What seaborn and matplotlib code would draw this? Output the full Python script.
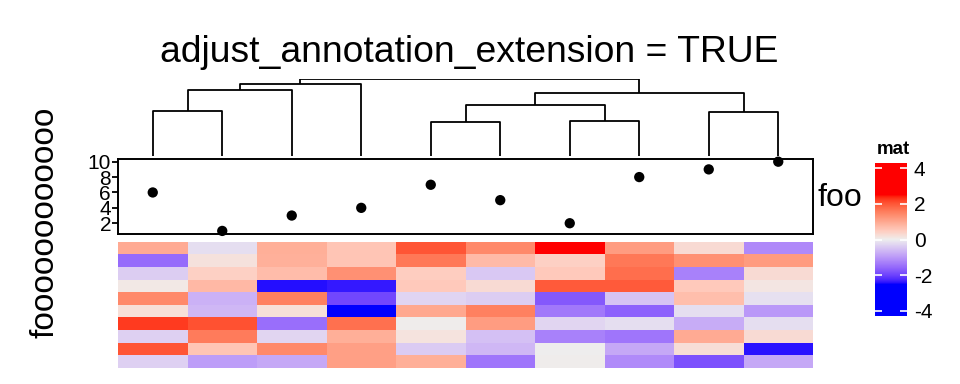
import numpy as np
import matplotlib
matplotlib.use("Agg")
import matplotlib.pyplot as plt
from matplotlib.colors import ListedColormap, Normalize
import seaborn as sns

# -----------------------------------------
# data
# -----------------------------------------
title = "adjust_annotation_extension = TRUE"
row_title = "foooooooooooo"
anno_name = "foo"
legend_title = "mat"

points = [6, 1, 3, 4, 7, 5, 2, 8, 9, 10]
anno_ticks = [2, 4, 6, 8, 10]
legend_ticks = [-4, -2, 0, 2, 4]

mat = np.array([
    [0.97, -0.19, 0.91, 0.59, 2.03, 1.41, 2.90, 1.16, 0.28, -1.19],
    [-1.54, 0.19, 0.88, 0.59, 1.63, 0.75, 0.44, 1.63, 1.31, 1.19],
    [-0.38, 0.44, 0.72, 1.31, 0.47, -0.44, 0.53, 1.75, -1.28, 0.28],
    [0.09, 0.78, -2.44, -2.38, 0.53, 0.28, 1.97, 1.97, 0.53, 0.13],
    [1.41, -0.72, 1.53, -1.94, -0.31, -0.38, -1.75, -0.50, 0.69, -0.16],
    [0.22, -0.63, 0.22, -2.90, 1.00, 1.53, -1.38, -1.66, -0.19, -1.00],
    [2.25, 2.06, -1.50, 1.72, 0.03, 1.16, -0.28, -0.19, -0.78, -0.19],
    [-0.34, 1.59, -0.28, 0.91, 0.16, -0.53, -1.28, -1.41, 0.97, 0.28],
    [2.03, 0.59, 1.41, 1.13, -0.41, -0.63, 0.00, -0.81, 0.25, -2.41],
    [-0.34, -0.94, -0.81, 1.13, 0.91, -1.41, 0.03, -1.16, -1.84, -0.81],
])

# column dendrogram: (left, right, height), ids >= 10 are earlier merges
merges = [
    (0, 1, 0.585),
    (10, 2, 0.86),
    (11, 3, 0.935),
    (4, 5, 0.437),
    (6, 7, 0.458),
    (13, 14, 0.66),
    (8, 9, 0.568),
    (15, 16, 0.817),
    (12, 17, 1.0),
]

col_break = 2.5


# -----------------------------------------
# blue - #EEEEEE - red ramp, interpolated in LAB
# -----------------------------------------
WHITE = np.array([0.95047, 1.0, 1.08883])
M = np.array([[0.4124, 0.3576, 0.1805], [0.2126, 0.7152, 0.0722], [0.0193, 0.1192, 0.9505]])
MINV = np.array([[3.2406, -1.5372, -0.4986], [-0.9689, 1.8758, 0.0415], [0.0557, -0.2040, 1.0570]])


def srgb_to_lab(rgb):
    c = np.asarray(rgb, float)
    lin = np.where(c <= 0.04045, c / 12.92, ((c + 0.055) / 1.055) ** 2.4)
    xyz = M @ lin / WHITE
    f = np.where(xyz > 0.008856, np.cbrt(xyz), 7.787 * xyz + 16 / 116)
    return np.array([116 * f[1] - 16, 500 * (f[0] - f[1]), 200 * (f[1] - f[2])])


def lab_to_srgb(lab):
    L, a, b = lab
    fy = (L + 16) / 116
    f = np.array([fy + a / 500, fy, fy - b / 200])
    xyz = np.where(f ** 3 > 0.008856, f ** 3, (f - 16 / 116) / 7.787) * WHITE
    lin = np.clip(MINV @ xyz, 0, 1)
    return np.where(lin <= 0.0031308, 12.92 * lin, 1.055 * lin ** (1 / 2.4) - 0.055)


lab_blue = srgb_to_lab([0, 0, 1])
lab_mid = srgb_to_lab([238 / 255] * 3)
lab_red = srgb_to_lab([1, 0, 0])

ramp = []
for v in np.linspace(-1, 1, 256):
    end = lab_blue if v < 0 else lab_red
    ramp.append(lab_to_srgb(lab_mid + abs(v) * (end - lab_mid)))
cmap = ListedColormap(ramp)
norm = Normalize(vmin=-col_break, vmax=col_break, clip=True)

# -----------------------------------------
# figure
# -----------------------------------------
plt.rcParams["font.family"] = ["Liberation Sans", "DejaVu Sans"]
W, H = 960, 384
fig = plt.figure(figsize=(W / 100, H / 100), dpi=100)


def box(x0, y0, x1, y1):
    return [x0 / W, 1 - y1 / H, (x1 - x0) / W, (y1 - y0) / H]


ax_den = fig.add_axes(box(118, 79.3, 813, 155.7))
ax_anno = fig.add_axes(box(118, 159, 813, 234))
ax_hm = fig.add_axes(box(118, 241.7, 813, 368))
ax_leg = fig.add_axes(box(875, 163, 907, 316))

n = mat.shape[1]

# dendrogram
pos = {i: i + 0.5 for i in range(n)}
hgt = {i: 0.0 for i in range(n)}
for k, (l, r, h) in enumerate(merges):
    ax_den.plot([pos[l], pos[l], pos[r], pos[r]], [hgt[l], h, h, hgt[r]],
                color="black", lw=1.3, solid_capstyle="butt")
    pos[n + k] = (pos[l] + pos[r]) / 2
    hgt[n + k] = h
ax_den.set_xlim(0, n)
ax_den.set_ylim(0, 1)
ax_den.axis("off")

# point annotation
sns.scatterplot(x=np.arange(n) + 0.5, y=points, ax=ax_anno, color="black",
                s=55, edgecolor="none", clip_on=False, legend=False)
ax_anno.set_xlim(0, n)
ax_anno.set_ylim(0.6, 10.35)
ax_anno.set_xticks([])
ax_anno.set_yticks(anno_ticks)
ax_anno.set_yticklabels([str(t) for t in anno_ticks], fontsize=15)
ax_anno.tick_params(axis="y", length=4, width=1.3, pad=1, labelsize=15)
for s in ax_anno.spines.values():
    s.set_linewidth(1.4)
ax_anno.set_xlabel("")
ax_anno.set_ylabel("")
fig.text(818 / W, 1 - 198 / H, anno_name, ha="left", va="center", fontsize=23)

# heatmap body
sns.heatmap(mat, ax=ax_hm, cmap=cmap, norm=norm, cbar=False,
            xticklabels=False, yticklabels=False)

# legend
leg_lo, leg_hi = -4.28, 4.28
grad = np.linspace(leg_lo, leg_hi, 400).reshape(-1, 1)
ax_leg.imshow(grad, cmap=cmap, norm=norm, aspect="auto", origin="lower",
              extent=[0, 1, leg_lo, leg_hi])
ax_leg.set_xlim(0, 1)
ax_leg.set_ylim(leg_lo, leg_hi)
ax_leg.set_xticks([])
ax_leg.set_yticks(legend_ticks)
ax_leg.set_yticklabels([str(t) for t in legend_ticks])
ax_leg.tick_params(axis="y", direction="in", length=5, width=1.2, color="white",
                   left=True, right=True, labelleft=False, labelright=True,
                   labelsize=15, pad=5)
for s in ax_leg.spines.values():
    s.set_visible(False)
fig.text(877 / W, 1 - 154 / H, legend_title, ha="left", va="baseline",
         fontsize=13.5, fontweight="bold")

# titles
fig.text(469 / W, 1 - 62 / H, title, ha="center", va="baseline", fontsize=26.8)
fig.text(45 / W, 1 - 222 / H, row_title, ha="center", va="center",
         rotation=90, fontsize=24)

fig.savefig("out.png", dpi=100)
